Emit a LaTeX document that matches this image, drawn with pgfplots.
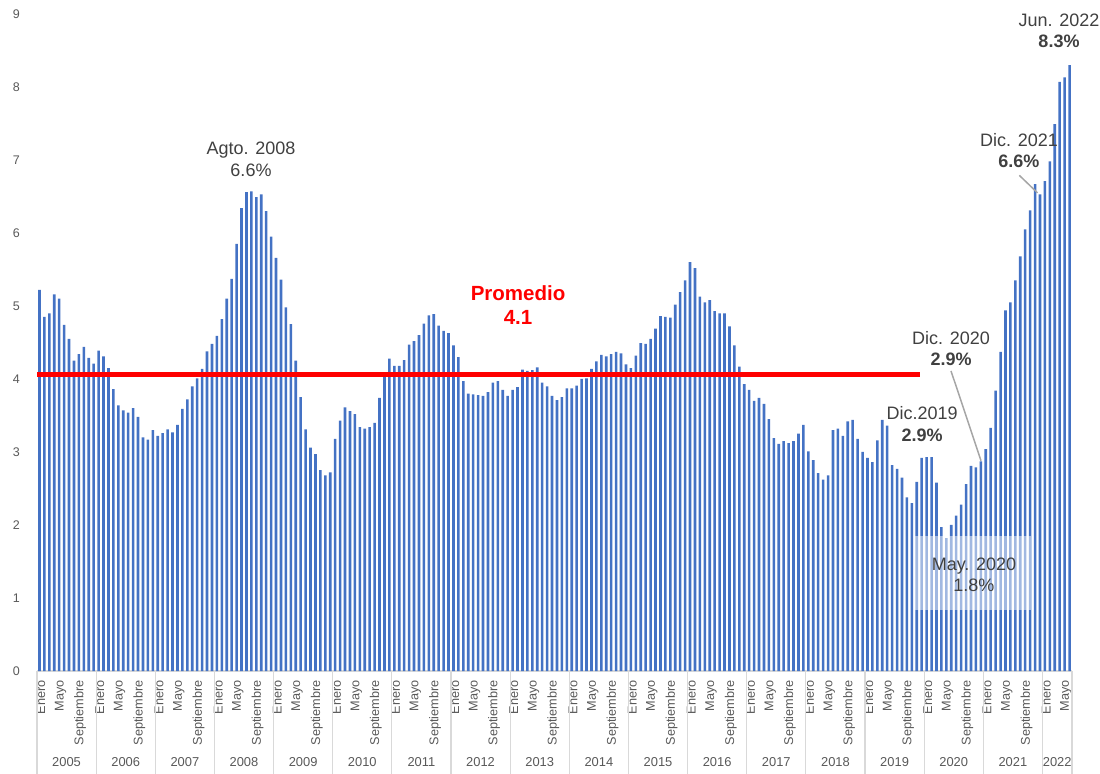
\documentclass[border=0pt]{standalone}
\usepackage{fontspec}
\setmainfont{Liberation Sans}
\usepackage{pgfplots}
\pgfplotsset{compat=1.18}
\usepackage{pgfplotstable}

\definecolor{barblue}{HTML}{4472C4}
\definecolor{txt}{HTML}{595959}
\definecolor{ann}{HTML}{404040}
\definecolor{sepgray}{HTML}{D9D9D9}
\definecolor{leader}{HTML}{A6A6A6}

% inflacion anual mensual, ene 2005 - jun 2022
\pgfplotstableread[row sep=\\]{
v\\
5.22\\4.85\\4.90\\5.16\\5.10\\4.74\\4.55\\4.25\\4.34\\4.44\\4.29\\4.21\\
4.39\\4.31\\4.15\\3.86\\3.64\\3.57\\3.54\\3.60\\3.48\\3.20\\3.17\\3.30\\
3.22\\3.26\\3.31\\3.27\\3.37\\3.59\\3.72\\3.90\\4.01\\4.14\\4.38\\4.48\\
4.59\\4.82\\5.10\\5.37\\5.85\\6.34\\6.56\\6.57\\6.49\\6.53\\6.30\\5.95\\
5.66\\5.36\\4.98\\4.75\\4.25\\3.75\\3.31\\3.06\\2.97\\2.75\\2.68\\2.72\\
3.18\\3.43\\3.61\\3.56\\3.52\\3.34\\3.32\\3.34\\3.40\\3.74\\4.03\\4.28\\
4.18\\4.18\\4.26\\4.47\\4.52\\4.60\\4.76\\4.87\\4.89\\4.73\\4.66\\4.63\\
4.46\\4.30\\3.97\\3.80\\3.79\\3.78\\3.77\\3.82\\3.95\\3.97\\3.85\\3.77\\
3.85\\3.89\\4.13\\4.11\\4.12\\4.16\\3.95\\3.90\\3.77\\3.71\\3.75\\3.87\\
3.87\\3.91\\4.00\\4.01\\4.14\\4.24\\4.33\\4.31\\4.34\\4.37\\4.35\\4.20\\
4.15\\4.32\\4.49\\4.48\\4.55\\4.69\\4.86\\4.85\\4.84\\5.02\\5.19\\5.35\\
5.60\\5.52\\5.13\\5.05\\5.08\\4.93\\4.90\\4.90\\4.72\\4.46\\4.17\\3.93\\
3.85\\3.70\\3.74\\3.66\\3.45\\3.19\\3.11\\3.15\\3.12\\3.15\\3.25\\3.37\\
3.01\\2.89\\2.71\\2.62\\2.68\\3.30\\3.32\\3.22\\3.42\\3.44\\3.18\\3.00\\
2.92\\2.86\\3.16\\3.44\\3.36\\2.82\\2.77\\2.65\\2.38\\2.30\\2.59\\2.92\\
2.93\\2.93\\2.58\\1.97\\1.82\\2.00\\2.13\\2.28\\2.56\\2.81\\2.79\\2.87\\
3.04\\3.33\\3.84\\4.37\\4.94\\5.05\\5.35\\5.68\\6.05\\6.31\\6.67\\6.53\\
6.71\\6.98\\7.49\\8.07\\8.13\\8.30\\
}\inflacion

\tikzset{
  annot/.style={text=ann, align=center, inner sep=0pt,
    font=\fontsize{18bp}{21.5bp}\selectfont},
}

\begin{document}
\begin{tikzpicture}
\begin{axis}[
    name=ax, at={(0,0)}, anchor=south west,
    set layers,
    x=4.9286bp, y=73bp,
    xmin=0.5, xmax=210.5, ymin=0, ymax=9,
    axis x line*=bottom, axis y line*=left,
    x axis line style={draw=sepgray, line width=1.3bp},
    y axis line style={draw=none},
    tick style={draw=none},
    ytick={0,...,9},
    xtick={1,5,...,209},
    xticklabels={Enero,Mayo,Septiembre,Enero,Mayo,Septiembre,Enero,Mayo,Septiembre,
      Enero,Mayo,Septiembre,Enero,Mayo,Septiembre,Enero,Mayo,Septiembre,
      Enero,Mayo,Septiembre,Enero,Mayo,Septiembre,Enero,Mayo,Septiembre,
      Enero,Mayo,Septiembre,Enero,Mayo,Septiembre,Enero,Mayo,Septiembre,
      Enero,Mayo,Septiembre,Enero,Mayo,Septiembre,Enero,Mayo,Septiembre,
      Enero,Mayo,Septiembre,Enero,Mayo,Septiembre,Enero,Mayo},
    xticklabel style={xshift=1.3bp, rotate=90, anchor=east, text=txt,
      inner xsep=9bp, inner ysep=0pt,
      font=\fontsize{12.7bp}{14bp}\selectfont},
    yticklabel style={text=txt, inner xsep=0pt, xshift=-17bp,
      font=\fontsize{12.5bp}{14bp}\selectfont},
    /pgf/number format/assume math mode=true,
    clip=false,
]
\addplot[ybar, bar width=2.6bp, fill=barblue, draw=none]
  table[x expr=\coordindex+1, y=v] {\inflacion};

% promedio
\addplot[red, line width=4.5bp, sharp plot] coordinates {(0.5,4.06) (179.7,4.06)};

% separadores de años (debajo de las etiquetas)
\pgfplotsinvokeforeach{0,...,17}{
  \draw[on layer=axis background, sepgray, line width=1.2bp]
    (axis cs:{#1*12+0.5},0) -- ([yshift=-103bp]axis cs:{#1*12+0.5},0);
}
\draw[on layer=axis background, sepgray, line width=1.2bp]
  (axis cs:210.5,0) -- ([yshift=-103bp]axis cs:210.5,0);
\pgfplotsinvokeforeach{0,...,16}{
  \node[text=txt, font=\fontsize{12.9bp}{14bp}\selectfont]
    at (axis cs:{#1*12+6.5},0) [yshift=-91bp] {\number\numexpr2005+#1\relax};
}
\node[text=txt, font=\fontsize{12.9bp}{14bp}\selectfont]
  at (axis cs:207.5,0) [yshift=-91bp] {2022};

% anotaciones
\node[annot] at (axis cs:43.92,7.01) {Agto. 2008\\6.6\%};
\node[text=red, align=center, inner sep=0pt,
  font=\bfseries\fontsize{20.5bp}{23.5bp}\selectfont]
  at (axis cs:98.1,5.01) {Promedio\\4.1};
\node[annot] at (axis cs:180.1,3.38) {Dic.2019\\\textbf{2.9\%}};
\node[annot] at (axis cs:185.95,4.42) {Dic. 2020\\\textbf{2.9\%}};
\draw[leader, line width=1.5bp] (axis cs:185.95,4.11) -- (axis cs:192.04,2.88);
\node[annot] at (axis cs:199.74,7.13) {Dic. 2021\\\textbf{6.6\%}};
\draw[leader, line width=1.5bp] (axis cs:199.8,6.79) -- (axis cs:203.5,6.55);
\node[annot] at (axis cs:207.86,8.77) {Jun. 2022\\\textbf{8.3\%}};
\fill[white, opacity=0.5] (axis cs:178.64,0.84) rectangle (axis cs:202.18,1.85);
\node[annot] at (axis cs:190.61,1.32) {May. 2020\\1.8\%};
\end{axis}
\pgfresetboundingbox
\path ([shift={(-37bp,-103bp)}]ax.south west) rectangle ([shift={(1063bp,671bp)}]ax.south west);
\end{tikzpicture}
\end{document}
